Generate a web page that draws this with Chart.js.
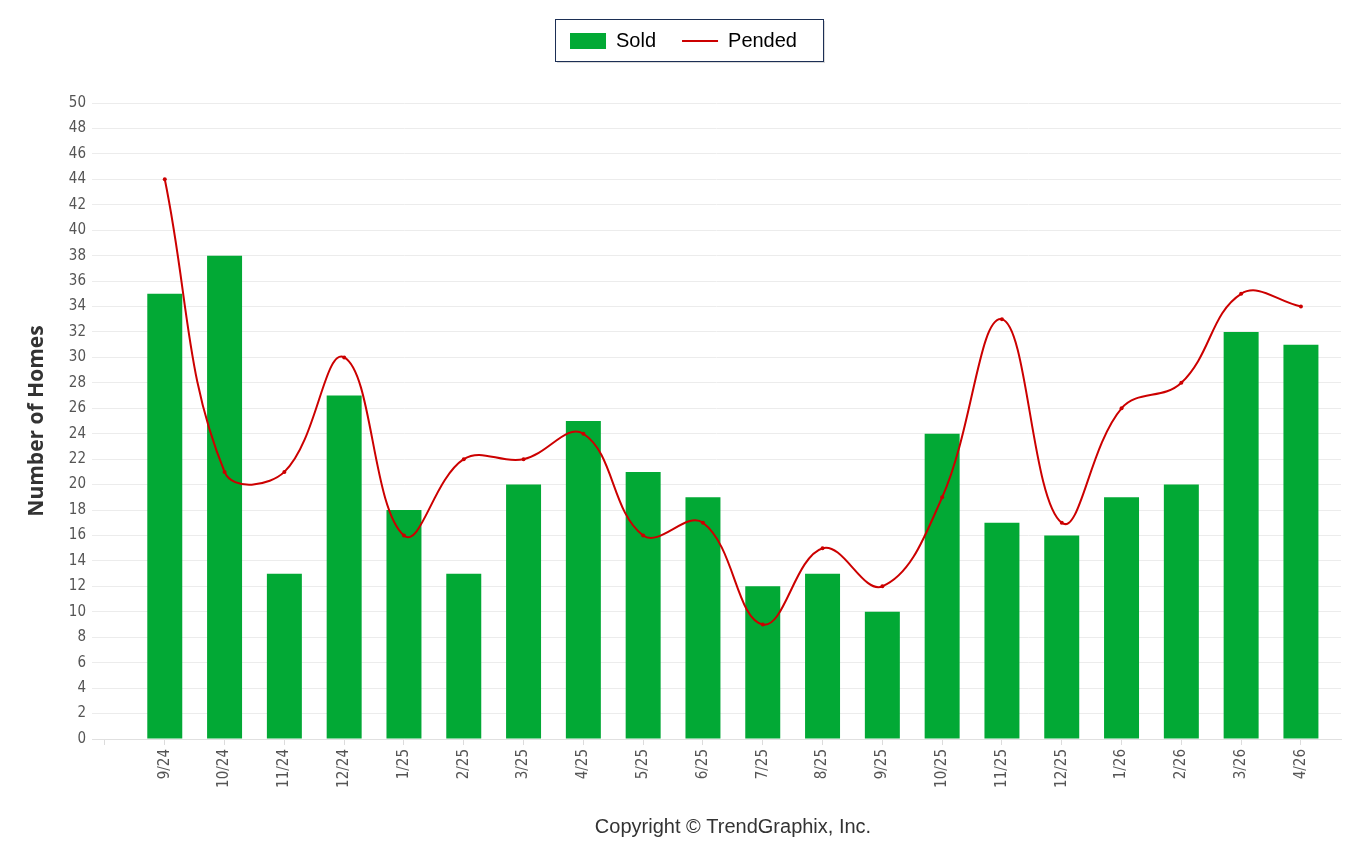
<!DOCTYPE html>
<html>
<head>
<meta charset="utf-8">
<script src="https://cdn.jsdelivr.net/npm/chart.js@4.4.1/dist/chart.umd.min.js"></script>
<style>
  html, body { margin: 0; padding: 0; background: #fff; }
  #wrap { width: 1345px; height: 846px; }
</style>
</head>
<body>
<div id="wrap"><canvas id="grafico" width="1345" height="846"></canvas></div>
<script>
// dados do gráfico
var months = ["9/24", "10/24", "11/24", "12/24", "1/25", "2/25", "3/25", "4/25", "5/25", "6/25",
              "7/25", "8/25", "9/25", "10/25", "11/25", "12/25", "1/26", "2/26", "3/26", "4/26"];
var soldValues = [35, 38, 13, 27, 18, 13, 20, 25, 21, 19, 12, 13, 10, 24, 17, 16, 19, 20, 32, 31];
var pendedValues = [44, 21, 21, 30, 16, 22, 22, 24, 16, 17, 9, 15, 12, 19, 33, 17, 26, 28, 35, 34];
var yTicks = [0, 2, 4, 6, 8, 10, 12, 14, 16, 18, 20, 22, 24, 26, 28, 30, 32, 34, 36, 38, 40, 42, 44, 46, 48, 50];

var tickFont = "'DejaVu Sans Condensed', 'Liberation Sans Narrow', 'Roboto', sans-serif";

function toPoints(values) {
  return values.map(function (v, i) { return { x: i, y: v }; });
}

// espaço extra abaixo da legenda e deslocamento para a direita
var legendSpace = {
  id: 'legendSpace',
  beforeUpdate: function (chart) {
    var legend = chart.legend;
    if (legend && !legend._fitPatched) {
      var fit = legend.fit;
      legend.fit = function () {
        fit.call(this);
        this.height += 42;
      };
      legend._fitPatched = true;
    }
  },
  afterLayout: function (chart) {
    var legend = chart.legend;
    if (legend) {
      legend.left += 11;
      legend.right += 11;
    }
  }
};

// caixa em volta da legenda + texto de copyright
var legendBox = {
  id: 'legendBox',
  afterDraw: function (chart) {
    var ctx = chart.ctx;
    var boxes = chart.legend.legendHitBoxes;
    if (boxes && boxes.length) {
      var first = boxes[0], last = boxes[boxes.length - 1];
      var x1 = first.left - 15, x2 = last.left + last.width + 26;
      var y1 = first.top - 12, y2 = first.top + first.height + 10;
      ctx.save();
      ctx.fillStyle = 'rgba(0,0,0,0.15)';
      ctx.fillRect(x1 + 2, y1 + 2, x2 - x1, y2 - y1);
      ctx.fillStyle = '#fff';
      ctx.fillRect(x1, y1, x2 - x1, y2 - y1);
      ctx.strokeStyle = '#1c2f55';
      ctx.lineWidth = 1;
      ctx.strokeRect(x1 + 0.5, y1 + 0.5, x2 - x1, y2 - y1);
      ctx.restore();
      chart.legend.draw();
    }
    ctx.save();
    ctx.font = "20px 'Liberation Sans', Arial, sans-serif";
    ctx.fillStyle = '#333';
    ctx.textAlign = 'center';
    ctx.textBaseline = 'middle';
    ctx.fillText('Copyright \u00A9 TrendGraphix, Inc.', 733, 827);
    ctx.restore();
  }
};

var ctx = document.getElementById('grafico').getContext('2d');
new Chart(ctx, {
  type: 'bar',
  data: {
    datasets: [
      {
        type: 'bar',
        label: 'Sold',
        data: toPoints(soldValues),
        backgroundColor: '#02a935',
        borderWidth: 0,
        barPercentage: 0.585,
        categoryPercentage: 1,
        order: 2
      },
      {
        type: 'line',
        label: 'Pended',
        data: toPoints(pendedValues),
        borderColor: '#cc0000',
        backgroundColor: '#cc0000',
        borderWidth: 2,
        pointRadius: 2,
        pointBackgroundColor: '#cc0000',
        pointBorderColor: '#cc0000',
        pointBorderWidth: 0,
        tension: 0.4,
        fill: false,
        order: 1
      }
    ]
  },
  options: {
    responsive: false,
    devicePixelRatio: 1,
    animation: false,
    layout: { padding: { top: 5, right: 0, left: 0, bottom: 0 } },
    plugins: {
      legend: {
        display: true,
        position: 'top',
        labels: {
          usePointStyle: true,
          pointStyleWidth: 36,
          boxHeight: 16,
          padding: 26,
          color: '#000',
          font: { size: 20, family: "'Liberation Sans', Arial, sans-serif" },
          sort: function (a, b) { return a.datasetIndex - b.datasetIndex; },
          generateLabels: function (chart) {
            var items = Chart.defaults.plugins.legend.labels.generateLabels(chart);
            items.forEach(function (it) {
              if (it.datasetIndex === 0) {
                it.pointStyle = 'rect';
                it.fillStyle = '#02a935';
                it.strokeStyle = '#02a935';
                it.lineWidth = 0;
              } else {
                it.pointStyle = 'line';
                it.strokeStyle = '#cc0000';
                it.lineWidth = 2;
              }
            });
            return items;
          }
        }
      },
      tooltip: { enabled: false }
    },
    scales: {
      x: {
        type: 'linear',
        min: -1.217,
        max: 19.67,
        offset: false,
        afterBuildTicks: function (scale) {
          var t = [{ value: -1 }];
          months.forEach(function (m, i) { t.push({ value: i }); });
          scale.ticks = t;
        },
        afterFit: function (scale) { scale.height = 107; },
        ticks: {
          autoSkip: false,
          minRotation: 90,
          maxRotation: 90,
          padding: 4,
          color: '#555',
          font: { size: 15, family: tickFont },
          callback: function (value) { return months[value] !== undefined ? months[value] : ''; }
        },
        grid: {
          offset: false,
          drawOnChartArea: false,
          drawTicks: true,
          tickLength: 6,
          color: '#dcdcdc'
        },
        border: { display: true, color: '#e0e0e0' }
      },
      y: {
        min: 0,
        max: 50,
        afterBuildTicks: function (scale) {
          scale.ticks = yTicks.map(function (v) { return { value: v }; });
        },
        afterFit: function (scale) { scale.width = 92; },
        ticks: {
          padding: 6,
          color: '#555',
          font: { size: 15, family: tickFont }
        },
        grid: { color: '#ececec', drawTicks: false },
        border: { display: false },
        title: {
          display: true,
          text: 'Number of Homes',
          color: '#333',
          padding: { top: 24, bottom: 8 },
          font: { size: 21, weight: 'bold', family: "'Open Sans', sans-serif" }
        }
      }
    }
  },
  plugins: [legendSpace, legendBox]
});
</script>
</body>
</html>
